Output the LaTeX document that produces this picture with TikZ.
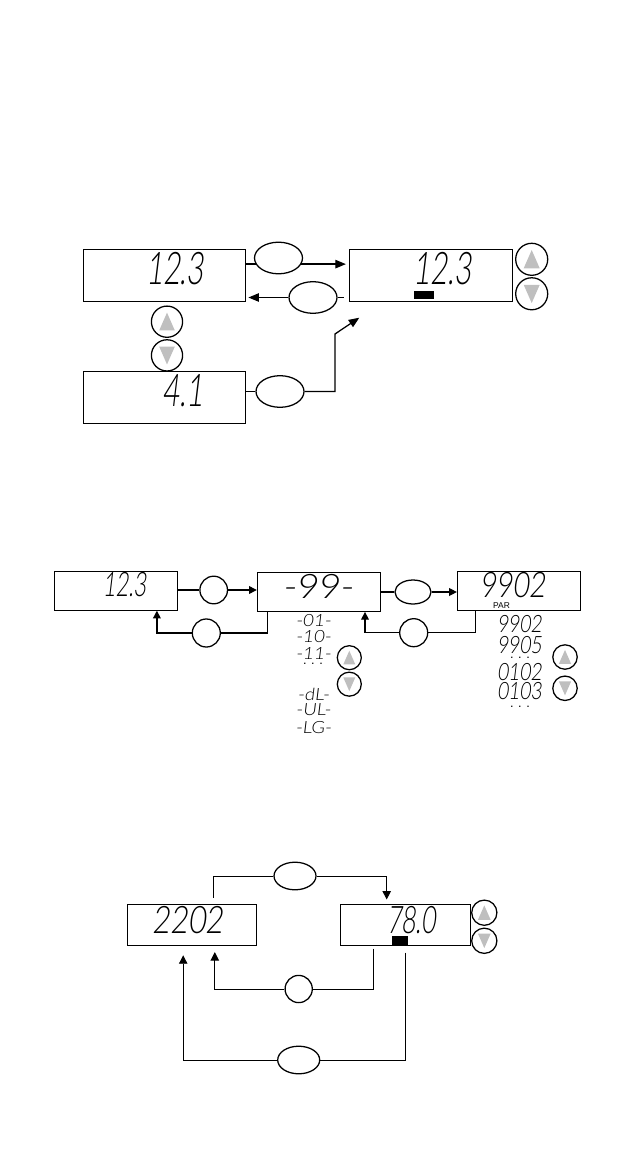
\documentclass[tikz,border=0pt]{standalone}
\usepackage{fontspec}
\setmainfont{Liberation Sans}
\newfontfamily\lcdfont[FakeStretch=.65,FakeSlant=.12]{Lato Light}
\newfontfamily\lcdwide[FakeStretch=.8,FakeSlant=.12]{Lato Light}
\newfontfamily\lcdflat[FakeStretch=1.1,FakeSlant=.12]{Lato Light}
\usetikzlibrary{shapes.geometric, arrows.meta, positioning, calc}
\definecolor{keygray}{gray}{0.75}

\begin{document}
\begin{tikzpicture}[
    x=0.025cm, y=-0.025cm,
    disp/.style={rectangle, draw, line width=0.7pt, inner sep=0pt},
    dispbig/.style={disp, minimum width=4.05cm, minimum height=1.31cm},
    dispmid/.style={disp, minimum width=3.07cm, minimum height=0.97cm},
    displow/.style={disp, minimum width=3.24cm, minimum height=1.03cm},
    oval/.style={ellipse, draw, line width=0.9pt, fill=white, inner sep=0pt},
    ovalbig/.style={oval, minimum width=1.2cm, minimum height=0.79cm},
    ovalmid/.style={oval, minimum width=0.9cm, minimum height=0.6cm},
    ovallow/.style={oval, minimum width=1.05cm, minimum height=0.69cm},
    round/.style={circle, draw, line width=0.9pt, inner sep=0pt, minimum size=#1},
    keyup/.style={circle, draw, line width=0.9pt, inner sep=0pt, minimum size=#1,
        path picture={\fill[keygray] ([yshift=.29*#1]path picture bounding box.center)
            -- ([shift={(.25*#1,-.28*#1)}]path picture bounding box.center)
            -- ([shift={(-.25*#1,-.28*#1)}]path picture bounding box.center) -- cycle;}},
    keydown/.style={circle, draw, line width=0.9pt, inner sep=0pt, minimum size=#1,
        path picture={\fill[keygray] ([yshift=-.29*#1]path picture bounding box.center)
            -- ([shift={(.25*#1,.28*#1)}]path picture bounding box.center)
            -- ([shift={(-.25*#1,.28*#1)}]path picture bounding box.center) -- cycle;}},
    bar/.style={rectangle, fill=black, inner sep=0pt},
    readbig/.style={inner sep=0pt, font=\lcdfont\fontsize{32}{32}\selectfont},
    readmid/.style={inner sep=0pt, font=\lcdfont\fontsize{24}{24}\selectfont},
    readlow/.style={inner sep=0pt, font=\lcdfont\fontsize{27}{27}\selectfont},
    readwide/.style={inner sep=0pt, font=\lcdwide\fontsize{#1}{#1}\selectfont},
    readflat/.style={inner sep=0pt, font=\lcdflat\fontsize{#1}{#1}\selectfont},
    dots/.style={inner sep=0pt, font=\fontsize{9}{9}\selectfont},
    wire/.style={line width=0.9pt},
    wirelow/.style={line width=0.7pt},
    flow/.style={wire, -{Triangle[length=7.5pt, width=6pt]}},
    flowmid/.style={wire, -{Triangle[length=5.5pt, width=5.5pt]}},
    flowlow/.style={wirelow, -{Triangle[length=6pt, width=6pt]}}
]
\useasboundingbox (0,0) rectangle (618,1156);

% local and remote
\node[dispbig] (dispA) at (164.5,275.5) {};
\node[dispbig] (dispB) at (431,275.5) {};
\node[dispbig] (dispC) at (164.5,397.3) {};
\node[readbig] (readA) at (174.9,269) {12.3};
\node[readbig] (readB) at (442.5,269) {12.3};
\node[readbig] (readC) at (183,391) {4.1};
\node[bar, minimum width=0.5cm, minimum height=0.22cm] (barB) at (424,295) {};
\node[ovalbig] (ovalA) at (278.5,258) {};
\node[ovalbig] (ovalB) at (313,297.5) {};
\node[ovalbig] (ovalC) at (280,391.5) {};
\node[keyup=0.8cm] (upB) at (531.7,259.3) {};
\node[keydown=0.8cm, below=0.03cm of upB] (downB) {};
\node[keyup=0.78cm] (upA) at (167,321.7) {};
\node[keydown=0.78cm, below=0.03cm of upA] (downA) {};
\coordinate (tipC) at (359.3,317.7);

\draw[wire] (dispA.east |- ovalA.195) -- (ovalA.195);
\draw[flow] (ovalA.345) -- ([xshift=-0.09cm]dispB.west |- ovalA.345);
\draw[wire] ([xshift=-0.14cm]dispB.west |- ovalB.east) -- (ovalB.east);
\draw[flow] (ovalB.west) -- ([xshift=0.06cm]dispA.east |- ovalB.west);
\draw[wire] (dispC.east |- ovalC.west) -- (ovalC.west);
\draw[flow] (ovalC.east) -- (335,391.5) -- (335,334) -- (tipC);

% main menu
\node[dispmid] (dispD) at (116,590.8) {};
\node[dispmid] (dispE) at (318.7,592) {};
\node[dispmid] (dispF) at (518.8,590.8) {};
\node[readmid] (readD) at (124.5,585) {12.3};
\node[readflat=24] (readE) at (318,586) {-99-};
\node[readwide=25] (readF) at (512.5,585.5) {9902};
\node[font=\fontsize{6}{6}\selectfont, inner sep=0pt] (parF) at (501.5,606) {PAR};
\node[round=0.69cm] (keyA) at (213.7,590) {};
\node[round=0.7cm] (keyB) at (206.3,633) {};
\node[ovalmid] (ovalF) at (413,592) {};
\node[round=0.7cm] (keyC) at (413.7,632.7) {};
\node[keyup=0.6cm] (upE) at (349.3,657.7) {};
\node[keydown=0.6cm, below=0.03cm of upE] (downE) {};
\node[keyup=0.61cm] (upF) at (565,657) {};
\node[keydown=0.61cm, below=0.14cm of upF] (downF) {};

\node[readflat=12] (listA) at (313.5,621) {-01-};
\node[readflat=12] (listB) at (313.5,637) {-10-};
\node[readflat=12] (listC) at (313.5,653.5) {-11-};
\node[dots] (listD) at (313,664) {. . .};
\node[readflat=12] (listE) at (313.5,694.5) {-dL-};
\node[readflat=12] (listF) at (313.5,710) {-UL-};
\node[readflat=12] (listG) at (313.5,727.5) {-LG-};
\node[readwide=17] (parA) at (519.5,624) {9902};
\node[readwide=17] (parB) at (519.5,645) {9905};
\node[dots] (parC) at (520,657.5) {. . .};
\node[readwide=17] (parD) at (519.5,671.7) {0102};
\node[readwide=17] (parE) at (519.5,691.3) {0103};
\node[dots] (parG) at (520,707) {. . .};

\draw[wire] (dispD.east |- keyA.west) -- (keyA.west);
\draw[flowmid] (keyA.east) -- (dispE.west |- keyA.east);
\draw[wire] ([xshift=0.265cm]dispE.south west) |- (keyB.east);
\draw[flowmid] (keyB.west) -| ([xshift=-0.525cm]dispD.south east);
\draw[wire] (dispE.east) -- (ovalF.west);
\draw[flowmid] (ovalF.east) -- (dispF.west |- ovalF.east);
\draw[wire] ([xshift=0.46cm]dispF.south west) |- (keyC.east);
\draw[flowmid] (keyC.west) -| ([xshift=-0.39cm]dispE.south east);

% edit
\node[displow] (dispG) at (192,925) {};
\node[displow] (dispH) at (405.5,925) {};
\node[readlow, font=\lcdwide\fontsize{27}{27}\selectfont] (readG) at (188,920) {2202};
\node[readlow] (readH) at (411.7,920) {78.0};
\node[bar, minimum width=0.4cm, minimum height=0.24cm] (barH) at (400,941) {};
\node[ovallow] (ovalG) at (295,876) {};
\node[round=0.68cm] (keyD) at (298.7,989) {};
\node[ovallow] (ovalH) at (298.7,1060) {};
\node[keyup=0.63cm] (upH) at (484.3,912.7) {};
\node[keydown=0.63cm, below=0.04cm of upH] (downH) {};

\draw[wirelow] ([shift={(0.525cm,0.15cm)}]dispG.north) |- (ovalG.west);
\draw[flowlow] (ovalG.east) -| ([shift={(-0.47cm,0.11cm)}]dispH.north);
\draw[wirelow] ([shift={(-0.805cm,-0.065cm)}]dispH.south) |- (keyD.east);
\draw[flowlow] (keyD.west) -| ([shift={(0.57cm,-0.15cm)}]dispG.south);
\draw[wirelow] ([yshift=-0.165cm]dispH.south) |- (ovalH.east);
\draw[flowlow] (ovalH.west) -| ([shift={(-0.22cm,-0.23cm)}]dispG.south);
\end{tikzpicture}
\end{document}
